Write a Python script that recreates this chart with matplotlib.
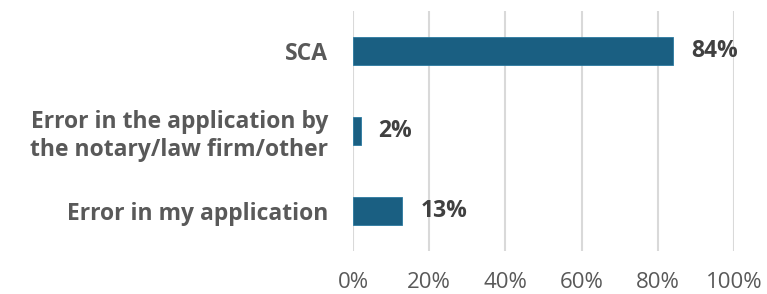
import matplotlib

matplotlib.use("Agg")
import matplotlib.pyplot as plt
from matplotlib.ticker import FuncFormatter

categories = [
    "SCA",
    "Error in the application by\nthe notary/law firm/other",
    "Error in my application",
]
values = [84, 2, 13]
value_labels = ["84%", "2%", "13%"]
x_ticks = [0, 20, 40, 60, 80, 100]

bar_color = "#1a5f82"
text_color = "#595959"
value_color = "#404040"
grid_color = "#d9d9d9"

plt.rcParams["font.family"] = ["Open Sans", "DejaVu Sans"]

fig = plt.figure(figsize=(7.67, 2.94), dpi=100)
ax = fig.add_axes([0.4602, 0.1463, 0.4967, 0.8163])

y = list(range(len(categories)))
ax.barh(y, values, height=0.35, color=bar_color, edgecolor="#2a7aa0", linewidth=0.6, zorder=3)

for yi, v, lab in zip(y, values, value_labels):
    ax.annotate(lab, (v, yi), xytext=(13, 0), textcoords="offset points",
                va="center", ha="left", fontsize=16.5, fontweight="bold", color=value_color)

ax.set_yticks(y)
ax.set_yticklabels(categories, fontsize=16.5, fontweight="bold", color=text_color,
                   linespacing=1.2, ha="right")
ax.set_ylim(2.5, -0.5)
ax.set_xlim(0, 100)
ax.set_xticks(x_ticks)
ax.xaxis.set_major_formatter(FuncFormatter(lambda v, _: f"{v:.0f}%"))
ax.tick_params(axis="x", labelsize=16, labelcolor=text_color, length=0, pad=15)
ax.tick_params(axis="y", length=0, pad=18)

ax.grid(axis="x", color=grid_color, linewidth=1.5, zorder=0)
for s in ax.spines.values():
    s.set_visible(False)

fig.savefig("out.png", dpi=100)
